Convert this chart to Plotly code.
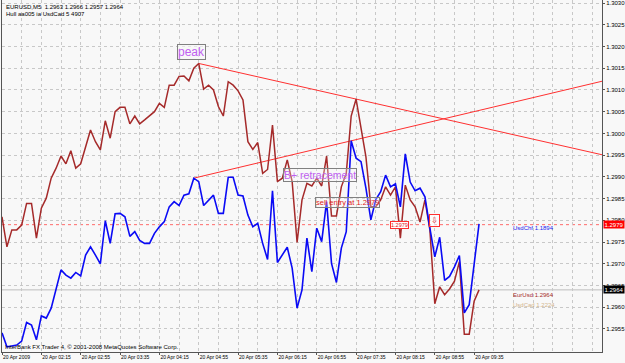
import plotly.graph_objects as go

# ---- data ----
eurusd = [1.29808, 1.29739, 1.29778, 1.29778, 1.29789, 1.29839, 1.29839, 1.29759, 1.29828, 1.29851,
          1.29897, 1.29920, 1.29948, 1.29930, 1.29960, 1.29920, 1.29930, 1.29969, 1.30008, 1.29981,
          1.29962, 1.30029, 1.29989, 1.30050, 1.30060, 1.30060, 1.30022, 1.30040, 1.30022, 1.30031,
          1.30040, 1.30050, 1.30069, 1.30060, 1.30111, 1.30111, 1.30131, 1.30132, 1.30121, 1.30150,
          1.30161, 1.30102, 1.30111, 1.30100, 1.30062, 1.30040, 1.30119, 1.30111, 1.30098, 1.30077,
          1.29981, 1.29963, 1.29979, 1.29908, 1.29917, 1.30019, 1.29889, 1.29897, 1.29939, 1.29889,
          1.29749, 1.29847, 1.29885, 1.29879, 1.29897, 1.29879, 1.29948, 1.29810, 1.29810, 1.29877,
          1.29908, 1.30040, 1.30079, 1.30008, 1.29946, 1.29831, 1.29831, 1.29847, 1.29877, 1.29858,
          1.29877, 1.29759, 1.29881, 1.29847, 1.29831, 1.29796, 1.29847, 1.29778, 1.29608, 1.29647,
          1.29629, 1.29642, 1.29660, 1.29705, 1.29538, 1.29538, 1.29614, 1.29640]

usdchf_overlay = [1.29541, 1.29509, 1.29511, 1.29513, 1.29522, 1.29565, 1.29559, 1.29525, 1.29580, 1.29575,
                  1.29598, 1.29640, 1.29686, 1.29674, 1.29667, 1.29680, 1.29672, 1.29720, 1.29739, 1.29720,
                  1.29700, 1.29799, 1.29747, 1.29815, 1.29816, 1.29808, 1.29763, 1.29774, 1.29754, 1.29747,
                  1.29747, 1.29770, 1.29785, 1.29797, 1.29831, 1.29843, 1.29834, 1.29858, 1.29861, 1.29897,
                  1.29889, 1.29834, 1.29847, 1.29858, 1.29816, 1.29816, 1.29899, 1.29899, 1.29858, 1.29856,
                  1.29812, 1.29785, 1.29793, 1.29747, 1.29710, 1.29868, 1.29703, 1.29720, 1.29738, 1.29690,
                  1.29598, 1.29640, 1.29759, 1.29682, 1.29782, 1.29751, 1.29843, 1.29701, 1.29657, 1.29736,
                  1.29774, 1.29983, 1.29943, 1.29935, 1.29874, 1.29801, 1.29848, 1.29866, 1.29904, 1.29877,
                  1.29884, 1.29831, 1.29953, 1.29888, 1.29868, 1.29874, 1.29854, 1.29782, 1.29716, 1.29761,
                  1.29662, 1.29671, 1.29693, 1.29719, 1.29587, 1.29606, 1.29697, 1.29792]

time_labels = ["20 Apr 2009", "20 Apr 02:15", "20 Apr 02:55", "20 Apr 03:35", "20 Apr 04:15",
               "20 Apr 04:55", "20 Apr 05:35", "20 Apr 06:15", "20 Apr 06:55", "20 Apr 07:35",
               "20 Apr 08:15", "20 Apr 08:55", "20 Apr 09:35"]
bars_per_label = 8

price_ticks = [1.2955, 1.2960, 1.2965, 1.2970, 1.2975, 1.2980, 1.2985, 1.2990, 1.2995,
               1.3000, 1.3005, 1.3010, 1.3015, 1.3020, 1.3025, 1.3030]

entry_price = 1.2979
bid_price = 1.2964

# trendline anchor bars (peaks)
upper_a, upper_b = 40, 72   # eurusd peaks
lower_a, lower_b = 39, 71   # overlay peaks

X_MAX = 122
Y_MIN, Y_MAX = 1.29497, 1.30307

FONT = "Liberation Sans, Arial, sans-serif"

x = list(range(len(eurusd)))
tick_x = [i * bars_per_label for i in range(len(time_labels))]

fig = go.Figure()

# trend lines through the two peaks, extended to the right edge
def trend(series, a, b):
    slope = (series[b] - series[a]) / (b - a)
    return [a, X_MAX], [series[a], series[a] + slope * (X_MAX - a)]

tx, ty = trend(eurusd, upper_a, upper_b)
fig.add_trace(go.Scatter(x=tx, y=ty, mode="lines", line=dict(color="#FF3030", width=1), hoverinfo="skip"))
tx, ty = trend(usdchf_overlay, lower_a, lower_b)
fig.add_trace(go.Scatter(x=tx, y=ty, mode="lines", line=dict(color="#FF3030", width=1), hoverinfo="skip"))

fig.add_trace(go.Scatter(x=x, y=eurusd, mode="lines", line=dict(color="#A52A2A", width=1.5)))
fig.add_trace(go.Scatter(x=x, y=usdchf_overlay, mode="lines", line=dict(color="#0A0AF5", width=1.6)))

# horizontal lines
fig.add_shape(type="line", xref="paper", x0=0, x1=1, yref="y", y0=entry_price, y1=entry_price,
              line=dict(color="#FF6A6A", width=1, dash="dot"), layer="below")
fig.add_shape(type="line", xref="paper", x0=0, x1=1, yref="y", y0=bid_price, y1=bid_price,
              line=dict(color="#BDBDBD", width=1), layer="below")

ann = []
# header texts
ann.append(dict(xref="paper", yref="paper", x=0.004, y=0.981, xanchor="left", yanchor="middle",
                text="EURUSD,M5  1.2963 1.2966 1.2957 1.2964", showarrow=False,
                font=dict(family=FONT, size=6, color="#000000")))
ann.append(dict(xref="paper", yref="paper", x=0.004, y=0.960, xanchor="left", yanchor="middle",
                text="Hull aa005 ia UsdCad 5 4907", showarrow=False,
                font=dict(family=FONT, size=6, color="#000000")))
ann.append(dict(xref="paper", yref="paper", x=0.002, y=0.015, xanchor="left", yanchor="middle",
                text="InterBank FX Trader 4, \u00a9 2001-2008 MetaQuotes Software Corp.", showarrow=False,
                font=dict(family=FONT, size=6, color="#000000")))

# chart objects
ann.append(dict(x=35.6, y=1.30206, xanchor="left", yanchor="top", text="peak", showarrow=False,
                font=dict(family=FONT, size=12, color="#C060F0"), bordercolor="#808080",
                borderwidth=1, borderpad=0, bgcolor="rgba(248,248,248,0.6)"))
ann.append(dict(x=57.1, y=1.29920, xanchor="left", yanchor="top", text="B+ retracement", showarrow=False,
                font=dict(family=FONT, size=10.5, color="#C060F0"), bordercolor="#808080",
                borderwidth=1, borderpad=0, bgcolor="rgba(248,248,248,0.3)"))
ann.append(dict(x=63.7, y=1.29853, xanchor="left", yanchor="top", text="sell entry at 1.2979", showarrow=False,
                font=dict(family=FONT, size=7.5, color="#E02020"), bordercolor="#808080",
                borderwidth=1, borderpad=0, bgcolor="rgba(248,248,248,0.3)"))
ann.append(dict(x=78.9, y=entry_price, xanchor="left", yanchor="middle", text="1.2979", showarrow=False,
                font=dict(family=FONT, size=5.5, color="#E02020"), bordercolor="#FF3030",
                borderwidth=1, borderpad=0, bgcolor="#FFFFFF"))
ann.append(dict(x=86.8, y=1.29815, xanchor="left", yanchor="top", text="\u21e9", showarrow=False,
                font=dict(family="DejaVu Sans", size=8, color="#E02020"), bordercolor="#FF3030",
                borderwidth=1, borderpad=1, bgcolor="rgba(255,255,255,0.5)"))
ann.append(dict(x=103.5, y=1.29782, xanchor="left", yanchor="middle", text="UsdChf 1.1894", showarrow=False,
                font=dict(family=FONT, size=6, color="#2020F0")))
ann.append(dict(x=103.5, y=1.29628, xanchor="left", yanchor="middle", text="EurUsd 1.2964", showarrow=False,
                font=dict(family=FONT, size=6, color="#A52A2A")))
ann.append(dict(x=103.5, y=1.29606, xanchor="left", yanchor="middle", text="UsdCad 1.2224", showarrow=False,
                font=dict(family=FONT, size=6, color="#D2B48C")))

# price tags on the axis
ann.append(dict(xref="paper", x=1.0, y=entry_price, xanchor="left", yanchor="middle",
                text="1.2979", showarrow=False, xshift=1,
                font=dict(family=FONT, size=6, color="#FFFFFF"), bgcolor="#FF0000", borderpad=0.5))
ann.append(dict(xref="paper", x=1.0, y=bid_price, xanchor="left", yanchor="middle",
                text="1.2964", showarrow=False, xshift=1,
                font=dict(family=FONT, size=6, color="#FFFFFF"), bgcolor="#000000", borderpad=0.5))

fig.update_layout(
    width=625, height=363,
    margin=dict(l=2, r=23, t=0, b=11, pad=0),
    paper_bgcolor="#F8F8F8", plot_bgcolor="#F8F8F8",
    showlegend=False,
    annotations=ann,
    xaxis=dict(range=[0, X_MAX], tickmode="array", tickvals=tick_x, ticktext=time_labels,
               ticklabelposition="outside right", tickangle=0, ticks="outside", ticklen=2,
               tickcolor="#555555",
               tickfont=dict(family=FONT, size=5, color="#000000"),
               showgrid=True, gridcolor="#C8C8C8", griddash="dot", gridwidth=1,
               minor=dict(dtick=bars_per_label // 2, tick0=0, showgrid=True, gridcolor="#C8C8C8",
                          griddash="dot", ticks=""),
               showline=True, linecolor="#555555", linewidth=1, zeroline=False, automargin=False),
    yaxis=dict(range=[Y_MIN, Y_MAX], side="right", tickmode="array", tickvals=price_ticks,
               tickformat=".4f", ticks="outside", ticklen=2, tickcolor="#555555",
               tickfont=dict(family=FONT, size=6, color="#000000"),
               showgrid=True, gridcolor="#C8C8C8", griddash="dot", gridwidth=1,
               showline=True, mirror=True, linecolor="#555555", linewidth=1,
               zeroline=False, automargin=False),
)

fig.write_html("out.html")
